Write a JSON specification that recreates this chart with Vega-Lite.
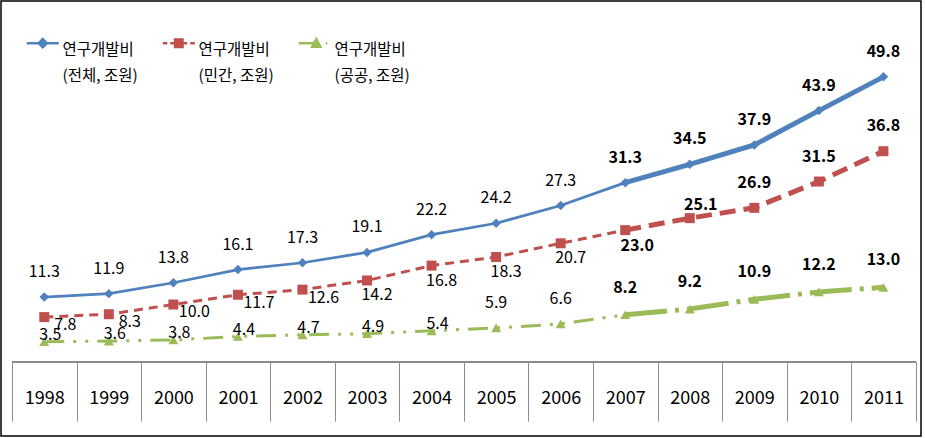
{
  "$schema": "https://vega.github.io/schema/vega-lite/v6.json",
  "width": 920,
  "height": 435,
  "autosize": "none",
  "padding": {"left": 1, "top": 1, "right": 4, "bottom": 2},
  "background": "white",
  "config": {
    "view": {"stroke": "#000000", "strokeWidth": 1.5},
    "font": "Noto Sans CJK KR",
    "text": {"font": "Noto Sans CJK KR", "fontSize": 16, "color": "#000000"},
    "style": {"guide-label": {"lineHeight": 26}}
  },
  "data": {
    "values": [
      {"year": 1998, "series": "연구개발비 (전체, 조원)", "value": 11.3},
      {"year": 1999, "series": "연구개발비 (전체, 조원)", "value": 11.9},
      {"year": 2000, "series": "연구개발비 (전체, 조원)", "value": 13.8},
      {"year": 2001, "series": "연구개발비 (전체, 조원)", "value": 16.1},
      {"year": 2002, "series": "연구개발비 (전체, 조원)", "value": 17.3},
      {"year": 2003, "series": "연구개발비 (전체, 조원)", "value": 19.1},
      {"year": 2004, "series": "연구개발비 (전체, 조원)", "value": 22.2},
      {"year": 2005, "series": "연구개발비 (전체, 조원)", "value": 24.2},
      {"year": 2006, "series": "연구개발비 (전체, 조원)", "value": 27.3},
      {"year": 2007, "series": "연구개발비 (전체, 조원)", "value": 31.3},
      {"year": 2008, "series": "연구개발비 (전체, 조원)", "value": 34.5},
      {"year": 2009, "series": "연구개발비 (전체, 조원)", "value": 37.9},
      {"year": 2010, "series": "연구개발비 (전체, 조원)", "value": 43.9},
      {"year": 2011, "series": "연구개발비 (전체, 조원)", "value": 49.8},
      {"year": 1998, "series": "연구개발비 (민간, 조원)", "value": 7.8},
      {"year": 1999, "series": "연구개발비 (민간, 조원)", "value": 8.3},
      {"year": 2000, "series": "연구개발비 (민간, 조원)", "value": 10.0},
      {"year": 2001, "series": "연구개발비 (민간, 조원)", "value": 11.7},
      {"year": 2002, "series": "연구개발비 (민간, 조원)", "value": 12.6},
      {"year": 2003, "series": "연구개발비 (민간, 조원)", "value": 14.2},
      {"year": 2004, "series": "연구개발비 (민간, 조원)", "value": 16.8},
      {"year": 2005, "series": "연구개발비 (민간, 조원)", "value": 18.3},
      {"year": 2006, "series": "연구개발비 (민간, 조원)", "value": 20.7},
      {"year": 2007, "series": "연구개발비 (민간, 조원)", "value": 23.0},
      {"year": 2008, "series": "연구개발비 (민간, 조원)", "value": 25.1},
      {"year": 2009, "series": "연구개발비 (민간, 조원)", "value": 26.9},
      {"year": 2010, "series": "연구개발비 (민간, 조원)", "value": 31.5},
      {"year": 2011, "series": "연구개발비 (민간, 조원)", "value": 36.8},
      {"year": 1998, "series": "연구개발비 (공공, 조원)", "value": 3.5},
      {"year": 1999, "series": "연구개발비 (공공, 조원)", "value": 3.6},
      {"year": 2000, "series": "연구개발비 (공공, 조원)", "value": 3.8},
      {"year": 2001, "series": "연구개발비 (공공, 조원)", "value": 4.4},
      {"year": 2002, "series": "연구개발비 (공공, 조원)", "value": 4.7},
      {"year": 2003, "series": "연구개발비 (공공, 조원)", "value": 4.9},
      {"year": 2004, "series": "연구개발비 (공공, 조원)", "value": 5.4},
      {"year": 2005, "series": "연구개발비 (공공, 조원)", "value": 5.9},
      {"year": 2006, "series": "연구개발비 (공공, 조원)", "value": 6.6},
      {"year": 2007, "series": "연구개발비 (공공, 조원)", "value": 8.2},
      {"year": 2008, "series": "연구개발비 (공공, 조원)", "value": 9.2},
      {"year": 2009, "series": "연구개발비 (공공, 조원)", "value": 10.9},
      {"year": 2010, "series": "연구개발비 (공공, 조원)", "value": 12.2},
      {"year": 2011, "series": "연구개발비 (공공, 조원)", "value": 13.0}
    ]
  },
  "encoding": {
    "x": {
      "field": "year",
      "type": "ordinal",
      "scale": {"type": "band", "paddingInner": 0, "paddingOuter": 0.1263, "align": 0.675},
      "axis": {
        "orient": "bottom",
        "offset": -74.3,
        "title": null,
        "domain": false,
        "grid": false,
        "tickBand": "extent",
        "tickSize": 59.5,
        "tickColor": "#8c8c8c",
        "tickWidth": 1,
        "labelAngle": 0,
        "labelFont": "Noto Sans CJK KR",
        "labelFontSize": 18,
        "labelColor": "#000000",
        "labelBaseline": "middle",
        "labelPadding": -23
      }
    },
    "y": {
      "field": "value",
      "type": "quantitative",
      "scale": {"domain": [-12.99, 63.06], "nice": false, "zero": false},
      "axis": null
    }
  },
  "layer": [
    {
      "transform": [{"filter": "false"}],
      "mark": {"type": "point", "filled": true, "opacity": 1, "size": 100, "strokeWidth": 2.5},
      "encoding": {
        "color": {
          "field": "series",
          "type": "nominal",
          "scale": {
            "domain": ["연구개발비 (전체, 조원)", "연구개발비 (민간, 조원)", "연구개발비 (공공, 조원)"],
            "range": ["#4F81BD", "#C0504D", "#9BBB59"]
          },
          "legend": {
            "title": null,
            "orient": "none",
            "legendX": 24,
            "legendY": 34,
            "direction": "horizontal",
            "padding": 0,
            "symbolSize": 100,
            "symbolStrokeWidth": 2.5,
            "symbolOffset": 10,
            "labelOffset": 12,
            "labelFont": "Noto Sans CJK KR",
            "labelFontSize": 15.5,
            "labelColor": "#000000",
            "labelBaseline": "top",
            "labelLimit": 0,
            "columnPadding": 19,
            "labelExpr": "[slice(datum.label, 0, 5), slice(datum.label, 6)]"
          }
        },
        "stroke": {
          "field": "series",
          "type": "nominal",
          "scale": {
            "domain": ["연구개발비 (전체, 조원)", "연구개발비 (민간, 조원)", "연구개발비 (공공, 조원)"],
            "range": ["#4F81BD", "#C0504D", "#9BBB59"]
          }
        },
        "shape": {
          "field": "series",
          "type": "nominal",
          "scale": {
            "domain": ["연구개발비 (전체, 조원)", "연구개발비 (민간, 조원)", "연구개발비 (공공, 조원)"],
            "range": [
              "M-3.2,0L3.2,0M0,-0.8L0.8,0L0,0.8L-0.8,0Z",
              "M-3.2,0L-2.3,0M-1.7,0L1.7,0M2.3,0L3.2,0M-0.75,-0.75L0.75,-0.75L0.75,0.75L-0.75,0.75Z",
              "M-3.2,0L0.4,0M2.2,0L2.5,0M0.3,-0.8L1.1,0.7L-0.5,0.7Z"
            ]
          }
        }
      }
    },
    {
      "mark": {"type": "rule", "color": "#8c8c8c", "strokeWidth": 1},
      "encoding": {
        "x": {"datum": 1998, "type": "ordinal", "bandPosition": 0},
        "x2": {"datum": 2011, "bandPosition": 1},
        "y": {"datum": 0, "type": "quantitative"}
      }
    },
    {
      "transform": [{"filter": "datum.series === '연구개발비 (공공, 조원)' && datum.year <= 2007"}],
      "mark": {"type": "line", "color": "#9BBB59", "strokeWidth": 3, "strokeDash": [20, 9, 3, 9, 3, 9]}
    },
    {
      "transform": [{"filter": "datum.series === '연구개발비 (공공, 조원)' && datum.year >= 2007"}],
      "mark": {"type": "line", "color": "#9BBB59", "strokeWidth": 5, "strokeDash": [42, 8, 4, 8]}
    },
    {
      "transform": [{"filter": "datum.series === '연구개발비 (민간, 조원)' && datum.year <= 2007"}],
      "mark": {"type": "line", "color": "#C0504D", "strokeWidth": 3, "strokeDash": [9, 6]}
    },
    {
      "transform": [{"filter": "datum.series === '연구개발비 (민간, 조원)' && datum.year >= 2007"}],
      "mark": {"type": "line", "color": "#C0504D", "strokeWidth": 5, "strokeDash": [16, 8]}
    },
    {
      "transform": [{"filter": "datum.series === '연구개발비 (전체, 조원)' && datum.year <= 2007"}],
      "mark": {"type": "line", "color": "#4F81BD", "strokeWidth": 2.75}
    },
    {
      "transform": [{"filter": "datum.series === '연구개발비 (전체, 조원)' && datum.year >= 2007"}],
      "mark": {"type": "line", "color": "#4F81BD", "strokeWidth": 5}
    },
    {
      "transform": [{"filter": "datum.series === '연구개발비 (전체, 조원)'"}],
      "mark": {"type": "point", "filled": true, "opacity": 1, "size": 90, "shape": "diamond", "color": "#4F81BD"}
    },
    {
      "transform": [{"filter": "datum.series === '연구개발비 (민간, 조원)'"}],
      "mark": {"type": "point", "filled": true, "opacity": 1, "size": 100, "shape": "square", "color": "#C0504D"}
    },
    {
      "transform": [{"filter": "datum.series === '연구개발비 (공공, 조원)'"}],
      "mark": {"type": "point", "filled": true, "opacity": 1, "size": 100, "shape": "triangle-up", "color": "#9BBB59"}
    },
    {
      "transform": [{"filter": "datum.series === '연구개발비 (전체, 조원)' && datum.year <= 2006"}],
      "mark": {"type": "text", "dy": -25},
      "encoding": {"text": {"field": "value", "type": "quantitative", "format": ".1f"}}
    },
    {
      "transform": [{"filter": "datum.series === '연구개발비 (전체, 조원)' && datum.year >= 2007"}],
      "mark": {"type": "text", "dy": -25, "fontWeight": "bold"},
      "encoding": {"text": {"field": "value", "type": "quantitative", "format": ".1f"}}
    },
    {
      "transform": [{"filter": "datum.series === '연구개발비 (민간, 조원)' && datum.year <= 2002"}],
      "mark": {"type": "text", "dx": 21, "dy": 8},
      "encoding": {"text": {"field": "value", "type": "quantitative", "format": ".1f"}}
    },
    {
      "transform": [{"filter": "datum.series === '연구개발비 (민간, 조원)' && datum.year >= 2003 && datum.year <= 2006"}],
      "mark": {"type": "text", "dx": 10, "dy": 15},
      "encoding": {"text": {"field": "value", "type": "quantitative", "format": ".1f"}}
    },
    {
      "transform": [{"filter": "datum.series === '연구개발비 (민간, 조원)' && datum.year == 2007"}],
      "mark": {"type": "text", "dx": 12, "dy": 16, "fontWeight": "bold"},
      "encoding": {"text": {"field": "value", "type": "quantitative", "format": ".1f"}}
    },
    {
      "transform": [{"filter": "datum.series === '연구개발비 (민간, 조원)' && datum.year == 2008"}],
      "mark": {"type": "text", "dx": 11, "dy": -13, "fontWeight": "bold"},
      "encoding": {"text": {"field": "value", "type": "quantitative", "format": ".1f"}}
    },
    {
      "transform": [{"filter": "datum.series === '연구개발비 (민간, 조원)' && datum.year >= 2009"}],
      "mark": {"type": "text", "dy": -25, "fontWeight": "bold"},
      "encoding": {"text": {"field": "value", "type": "quantitative", "format": ".1f"}}
    },
    {
      "transform": [{"filter": "datum.series === '연구개발비 (공공, 조원)' && datum.year <= 2004"}],
      "mark": {"type": "text", "dx": 6, "dy": -7},
      "encoding": {"text": {"field": "value", "type": "quantitative", "format": ".1f"}}
    },
    {
      "transform": [{"filter": "datum.series === '연구개발비 (공공, 조원)' && datum.year >= 2005 && datum.year <= 2006"}],
      "mark": {"type": "text", "dy": -25},
      "encoding": {"text": {"field": "value", "type": "quantitative", "format": ".1f"}}
    },
    {
      "transform": [{"filter": "datum.series === '연구개발비 (공공, 조원)' && datum.year >= 2007"}],
      "mark": {"type": "text", "dy": -27, "fontWeight": "bold"},
      "encoding": {"text": {"field": "value", "type": "quantitative", "format": ".1f"}}
    }
  ]
}
